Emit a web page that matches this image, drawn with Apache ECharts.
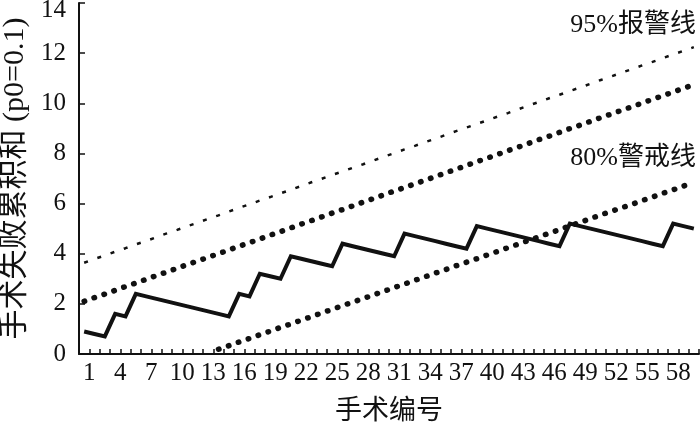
<!DOCTYPE html>
<html>
<head>
<meta charset="utf-8">
<script src="https://cdn.jsdelivr.net/npm/echarts@6/dist/echarts.min.js"></script>
<style>html,body{margin:0;padding:0;background:#fff}#c{width:700px;height:422px}</style>
</head>
<body>
<div id="c"></div>
<script>
// Case numbers 1..60
var categories = [];
for (var i = 1; i <= 60; i++) categories.push(String(i));

// CUSUM of surgical failures (p0 = 0.1)
var cusum = [0.9,0.8,0.7,1.6,1.5,2.4,2.3,2.2,2.1,2.0,
             1.9,1.8,1.7,1.6,1.5,2.4,2.3,3.2,3.1,3.0,
             3.9,3.8,3.7,3.6,3.5,4.4,4.3,4.2,4.1,4.0,
             3.9,4.8,4.7,4.6,4.5,4.4,4.3,4.2,5.1,5.0,
             4.9,4.8,4.7,4.6,4.5,4.4,4.3,5.2,5.1,5.0,
             4.9,4.8,4.7,4.6,4.5,4.4,4.3,5.2,5.1,5.0];

// 95% alarm line
var alarm95 = [3.64,3.79,3.93,4.08,4.22,4.37,4.51,4.66,4.81,4.95,
               5.10,5.24,5.39,5.53,5.68,5.83,5.97,6.12,6.26,6.41,
               6.55,6.70,6.85,6.99,7.14,7.28,7.43,7.57,7.72,7.87,
               8.01,8.16,8.30,8.45,8.59,8.74,8.89,9.03,9.18,9.32,
               9.47,9.61,9.76,9.91,10.05,10.20,10.34,10.49,10.63,10.78,
               10.93,11.07,11.22,11.36,11.51,11.65,11.80,11.95,12.09,12.24];

// middle boundary line
var upperLine = [2.10,2.25,2.39,2.54,2.69,2.83,2.98,3.13,3.27,3.42,
                 3.57,3.71,3.86,4.00,4.15,4.30,4.44,4.59,4.74,4.88,
                 5.03,5.18,5.32,5.47,5.62,5.76,5.91,6.06,6.20,6.35,
                 6.50,6.64,6.79,6.93,7.08,7.23,7.37,7.52,7.67,7.81,
                 7.96,8.11,8.25,8.40,8.55,8.69,8.84,8.99,9.13,9.28,
                 9.43,9.57,9.72,9.86,10.01,10.16,10.30,10.45,10.60,10.74];

// 80% warning line
var warn80 = [null,null,null,null,null,null,null,null,null,null,
              null,null,null,0.19,0.33,0.48,0.62,0.77,0.91,1.06,
              1.20,1.35,1.49,1.64,1.78,1.93,2.07,2.21,2.36,2.50,
              2.65,2.79,2.94,3.08,3.23,3.37,3.52,3.66,3.80,3.95,
              4.09,4.24,4.38,4.53,4.67,4.82,4.96,5.11,5.25,5.40,
              5.55,5.69,5.83,5.97,6.12,6.26,6.41,6.55,6.70,6.84];

var xTickLabels = ['1','4','7','10','13','16','19','22','25','28','31','34','37','40','43','46','49','52','55','58'];
var yTicks = [0,2,4,6,8,10,12,14];

var FONT = '"Liberation Serif", "Noto Sans CJK SC", serif';
var INK = '#111';

var chart = echarts.init(document.getElementById('c'));
chart.setOption({
  backgroundColor: '#fff',
  animation: false,
  grid: { left: 79, right: 1, top: 3, bottom: 68, containLabel: false, outerBoundsMode: 'none' },
  xAxis: [{
    type: 'value', min: 0, max: 60, interval: 1,
    name: '手术编号', nameLocation: 'middle', nameGap: 44,
    nameTextStyle: { fontFamily: FONT, fontSize: 27, color: INK },
    axisLine: { lineStyle: { color: INK, width: 2 } },
    axisTick: { inside: true, length: 5, lineStyle: { color: INK, width: 1.5 } },
    axisLabel: {
      fontFamily: FONT, fontSize: 25, color: INK, margin: 7,
      formatter: function (v) { return xTickLabels.indexOf(String(v)) >= 0 ? String(v) : ''; },
      showMinLabel: true, showMaxLabel: true, hideOverlap: false
    },
    splitLine: { show: false }
  }, {
    type: 'category', data: categories, boundaryGap: true, show: false, position: 'bottom'
  }],
  yAxis: {
    type: 'value', min: 0, max: 14, interval: 2,
    name: '手术失败累积和 (p0=0.1)', nameLocation: 'middle', nameGap: 48,
    nameTextStyle: { fontFamily: FONT, fontSize: 30, color: INK },
    axisLine: { show: true, lineStyle: { color: INK, width: 2 } },
    axisTick: { show: true, inside: true, length: 6, lineStyle: { color: INK, width: 1.5 } },
    axisLabel: {
      fontFamily: FONT, fontSize: 25, color: INK, margin: 13,
      formatter: function (v) { return v === yTicks[yTicks.length - 1] ? '{t|' + v + '}' : String(v); },
      rich: { t: { fontFamily: FONT, fontSize: 25, color: INK, padding: [14, 0, 0, 0] } }
    },
    splitLine: { show: false }
  },
  series: [{
    type: 'line', xAxisIndex: 1, data: alarm95, showSymbol: false, symbol: 'none',
    lineStyle: { color: INK, width: 2.5, type: [4, 10] }
  }, {
    type: 'line', xAxisIndex: 1, data: upperLine, showSymbol: false, symbol: 'none',
    lineStyle: { color: INK, width: 5.5, type: [0.5, 10], cap: 'round' }
  }, {
    type: 'line', xAxisIndex: 1, data: warn80, showSymbol: false, symbol: 'none',
    lineStyle: { color: INK, width: 5.5, type: [0.5, 10], cap: 'round' }
  }, {
    type: 'line', xAxisIndex: 1, data: cusum, showSymbol: false, symbol: 'none',
    lineStyle: { color: INK, width: 4, join: 'miter' }
  }],
  graphic: [{
    type: 'text', x: 696, y: 25,
    style: { text: '95%报警线', font: '26px ' + FONT, fill: INK, align: 'right', verticalAlign: 'middle' }
  }, {
    type: 'text', x: 696, y: 158,
    style: { text: '80%警戒线', font: '26px ' + FONT, fill: INK, align: 'right', verticalAlign: 'middle' }
  }]
});
</script>
</body>
</html>
